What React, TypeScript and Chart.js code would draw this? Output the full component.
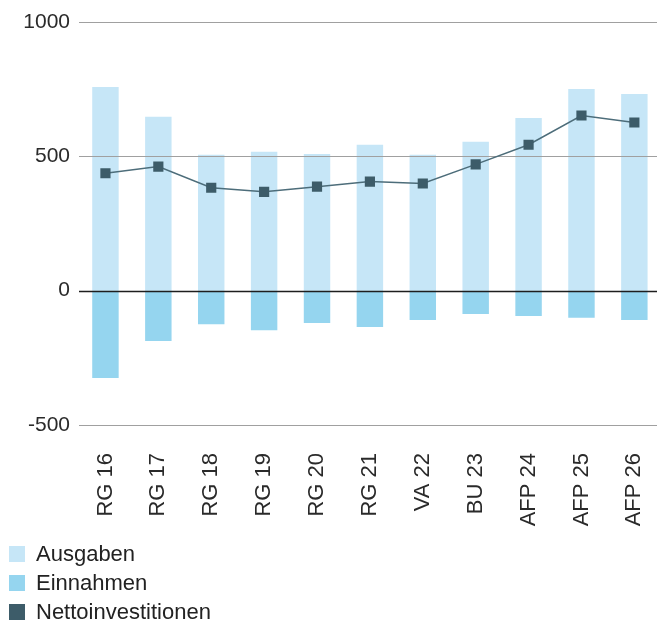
import React, { useEffect, useRef } from "react";
import { Chart, registerables } from "chart.js";

Chart.register(...registerables);

const categories = ["RG 16", "RG 17", "RG 18", "RG 19", "RG 20", "RG 21", "VA 22", "BU 23", "AFP 24", "AFP 25", "AFP 26"];
const ausgaben = [758, 647, 506, 517, 509, 543, 506, 554, 643, 751, 732];
const einnahmen = [-325, -187, -125, -147, -120, -135, -109, -87, -94, -101, -109];
const netto = [437, 462, 383, 368, 387, 406, 399, 470, 543, 652, 626];
const yTicks = [-500, 0, 500, 1000];

const seriesLabels = ["Ausgaben", "Einnahmen", "Nettoinvestitionen"];
const colors = ["#c6e6f7", "#95d5ef", "#3d5c69"];

const FONT = "'Helvetica Neue', Helvetica, Arial, 'Liberation Sans', sans-serif";
const W = 657;
const CW = 668;
const CH = 540;

const gridOverBars = {
  id: "gridOverBars",
  beforeDatasetDraw(chart: any, args: any) {
    if (args.index !== 2) return;
    const { ctx, chartArea, scales } = chart;
    const y = scales.y;
    ctx.save();
    for (const v of yTicks) {
      const py = Math.round(y.getPixelForValue(v)) + 0.5;
      ctx.beginPath();
      ctx.lineWidth = v === 0 ? 1.5 : 1;
      ctx.strokeStyle = v === 0 ? "#1e1e1e" : "#a0a0a0";
      ctx.moveTo(chartArea.left, py);
      ctx.lineTo(W, py);
      ctx.stroke();
    }
    ctx.restore();
  },
};

export default function App() {
  const ref = useRef<HTMLCanvasElement>(null);
  useEffect(() => {
    if (!ref.current) return;
    const chart = new Chart(ref.current, {
      type: "bar",
      data: {
        labels: categories,
        datasets: [
          { type: "bar", label: seriesLabels[0], data: ausgaben, backgroundColor: colors[0], order: 2 },
          { type: "bar", label: seriesLabels[1], data: einnahmen, backgroundColor: colors[1], order: 1 },
          {
            type: "line",
            label: seriesLabels[2],
            data: netto,
            borderColor: "#4d6d7a",
            borderWidth: 1.5,
            backgroundColor: colors[2],
            pointBackgroundColor: colors[2],
            pointBorderColor: colors[2],
            pointBorderWidth: 0,
            pointStyle: "rect",
            pointRadius: 7.2,
            order: 0,
          } as any,
        ],
      },
      options: {
        responsive: false,
        animation: false,
        layout: { padding: { top: 22, right: 0, bottom: 0, left: 0 } },
        datasets: { bar: { categoryPercentage: 1, barPercentage: 0.5 } },
        plugins: { legend: { display: false }, tooltip: { enabled: false } },
        scales: {
          x: {
            stacked: true,
            offset: true,
            grid: { display: false, drawTicks: false },
            border: { display: false },
            ticks: {
              minRotation: 90,
              maxRotation: 90,
              padding: 28,
              color: "#2a2a2a",
              font: { family: FONT, size: 22 },
            },
            afterFit: (s: any) => {
              s.height = CH - 425;
              s.paddingLeft = 0;
              s.paddingRight = 0;
            },
          },
          y: {
            min: -500,
            max: 1000,
            grid: { display: false, drawTicks: false },
            border: { display: false },
            ticks: {
              stepSize: 500,
              padding: 9,
              color: "#2a2a2a",
              font: { family: FONT, size: 21 },
              callback: (v: any) => String(v),
            },
            afterBuildTicks: (s: any) => {
              s.ticks = yTicks.map((v) => ({ value: v }));
            },
            afterFit: (s: any) => {
              s.width = 79;
            },
          },
        },
      },
      plugins: [gridOverBars],
    });
    return () => chart.destroy();
  }, []);

  return (
    <div style={{ position: "absolute", left: 0, top: 0, width: W, height: 622, background: "#fff", overflow: "hidden" }}>
      <canvas ref={ref} width={CW} height={CH} style={{ display: "block" }} />
      <div style={{ position: "absolute", left: 9, top: 539, fontFamily: FONT, fontSize: 22, color: "#222" }}>
        {seriesLabels.map((l, i) => (
          <div key={l} style={{ display: "flex", alignItems: "center", height: 29 }}>
            <span style={{ width: 16, height: 16, background: colors[i], display: "inline-block", marginRight: 11 }} />
            <span style={{ lineHeight: "29px" }}>{l}</span>
          </div>
        ))}
      </div>
    </div>
  );
}
